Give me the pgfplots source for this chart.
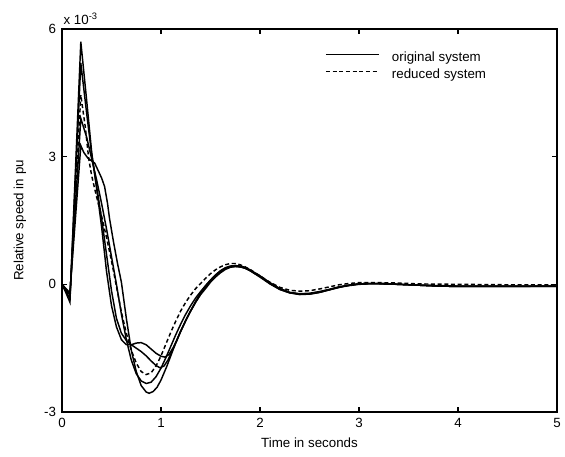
\documentclass[border=0pt]{standalone}
\usepackage{pgfplots}
\pgfplotsset{compat=1.18}
\usepackage{fontspec}
\setmainfont{Liberation Sans}
\begin{document}
\begin{tikzpicture}
\begin{axis}[
  name=ax,
  at={(0,0)}, anchor=south west,
  scale only axis,
  width=371.25pt, height=287.25pt,
  xmin=0, xmax=5, ymin=-3, ymax=6,
  xtick={0,1,2,3,4,5},
  ytick={-3,0,3,6},
  scaled ticks=false,
  tick align=inside,
  tick pos=both,
  major tick length=3.5pt,
  axis line style={line width=0.8pt},
  every tick/.style={line width=0.8pt, black},
  /pgf/number format/assume math mode=true,
  tick label style={font=\fontsize{10}{12}\selectfont},
  xticklabel style={yshift=-1pt},
  yticklabel style={xshift=-1pt},
  label style={font=\fontsize{10}{12}\selectfont},
  xlabel={Time in seconds},
  ylabel={Relative speed in pu},
  x label style={at={(axis description cs:0.5,-0.081)}, anchor=center},
  y label style={at={(axis description cs:-0.085,0.5)}, anchor=center, rotate=0},
  legend cell align=left,
  legend style={draw=none, fill=none, at={(rel axis cs:0.523,0.947)}, anchor=north west,
    font=\fontsize{10}{12}\selectfont, row sep=3.75pt,
    nodes={inner sep=0pt, text height=7pt, text depth=2pt},
    /tikz/every odd column/.append style={column sep=9.5pt}},
  legend image code/.code={\draw[#1] (0pt,3pt) -- (39.5pt,3pt);},
  every axis plot/.append style={line width=1.1pt, black},
]
% original system (A)
\addplot[solid] coordinates {(0,0)(0.04,-0.2)(0.08,-0.42)(0.19,5.7)(0.25,4.3)(0.3,3.1)(0.35,2.25)(0.4,1.35)(0.45,0.3)(0.5,-0.5)(0.55,-1.0)(0.6,-1.3)(0.65,-1.42)(0.7,-1.42)(0.75,-1.38)(0.8,-1.37)(0.85,-1.42)(0.9,-1.52)(0.95,-1.62)(1.0,-1.69)(1.04,-1.71)(1.08,-1.65)(1.12,-1.5)(1.16,-1.32)(1.2,-1.1)(1.25,-0.85)(1.3,-0.62)(1.35,-0.4)(1.4,-0.2)(1.45,-0.04)(1.5,0.1)(1.55,0.22)(1.6,0.32)(1.65,0.39)(1.7,0.43)(1.75,0.44)(1.8,0.42)(1.85,0.38)(1.9,0.32)(2.0,0.17)(2.1,0.01)(2.2,-0.12)(2.3,-0.2)(2.4,-0.23)(2.5,-0.22)(2.6,-0.18)(2.7,-0.12)(2.8,-0.06)(2.9,-0.02)(3.0,0.01)(3.1,0.02)(3.2,0.02)(3.4,0.0)(3.6,-0.02)(3.8,-0.04)(4.0,-0.05)(4.5,-0.05)(5,-0.04)};
\addlegendentry{original system}

% reduced system (C)
\addplot[dash pattern=on 3pt off 2pt] coordinates {(0,0)(0.04,-0.14)(0.08,-0.3)(0.19,4.45)(0.235,3.7)(0.27,2.95)(0.3,2.55)(0.35,2.05)(0.4,1.6)(0.45,1.1)(0.5,0.55)(0.55,-0.05)(0.6,-0.65)(0.65,-1.15)(0.7,-1.55)(0.75,-1.85)(0.8,-2.05)(0.85,-2.12)(0.9,-2.08)(0.95,-1.92)(1.0,-1.68)(1.05,-1.4)(1.1,-1.12)(1.15,-0.86)(1.2,-0.62)(1.25,-0.42)(1.3,-0.25)(1.35,-0.1)(1.4,0.02)(1.45,0.14)(1.5,0.25)(1.55,0.34)(1.6,0.41)(1.65,0.46)(1.7,0.49)(1.75,0.49)(1.8,0.46)(1.85,0.41)(1.9,0.35)(2.0,0.2)(2.1,0.05)(2.2,-0.07)(2.3,-0.14)(2.4,-0.16)(2.5,-0.15)(2.6,-0.11)(2.7,-0.06)(2.8,-0.01)(2.9,0.02)(3.0,0.04)(3.1,0.04)(3.2,0.04)(3.4,0.03)(3.6,0.01)(4.0,0.0)(4.5,-0.01)(5,-0.01)};
\addlegendentry{reduced system}

% original system (B)
\addplot[solid, forget plot] coordinates {(0,0)(0.04,-0.16)(0.08,-0.34)(0.19,5.2)(0.25,4.0)(0.3,3.05)(0.35,2.3)(0.4,1.55)(0.45,0.7)(0.5,-0.15)(0.55,-0.8)(0.6,-1.15)(0.65,-1.32)(0.7,-1.42)(0.75,-1.5)(0.8,-1.58)(0.85,-1.68)(0.9,-1.8)(0.95,-1.91)(0.99,-1.96)(1.03,-1.92)(1.07,-1.78)(1.11,-1.58)(1.15,-1.36)(1.2,-1.1)(1.25,-0.85)(1.3,-0.62)(1.35,-0.42)(1.4,-0.23)(1.45,-0.06)(1.5,0.08)(1.55,0.2)(1.6,0.3)(1.65,0.37)(1.7,0.41)(1.75,0.42)(1.8,0.41)(1.85,0.38)(1.9,0.32)(2.0,0.18)(2.1,0.02)(2.2,-0.12)(2.3,-0.2)(2.4,-0.24)(2.5,-0.23)(2.6,-0.19)(2.7,-0.13)(2.8,-0.07)(2.9,-0.02)(3.0,0.01)(3.1,0.02)(3.2,0.02)(3.4,0.0)(3.6,-0.02)(3.8,-0.04)(4.0,-0.05)(4.5,-0.05)(5,-0.05)};

% original system (E)
\addplot[solid, forget plot] coordinates {(0,0)(0.04,-0.12)(0.08,-0.25)(0.19,3.9)(0.25,3.45)(0.3,2.95)(0.35,2.45)(0.4,1.9)(0.45,1.3)(0.5,0.65)(0.55,0.0)(0.6,-0.7)(0.65,-1.3)(0.7,-1.78)(0.75,-2.1)(0.8,-2.27)(0.85,-2.33)(0.9,-2.3)(0.95,-2.17)(1.0,-1.97)(1.05,-1.72)(1.1,-1.45)(1.15,-1.18)(1.2,-0.93)(1.25,-0.7)(1.3,-0.5)(1.35,-0.32)(1.4,-0.17)(1.45,-0.03)(1.5,0.1)(1.55,0.21)(1.6,0.31)(1.65,0.38)(1.7,0.42)(1.75,0.44)(1.8,0.43)(1.85,0.4)(1.9,0.34)(2.0,0.19)(2.1,0.03)(2.2,-0.1)(2.3,-0.19)(2.4,-0.22)(2.5,-0.21)(2.6,-0.17)(2.7,-0.12)(2.8,-0.06)(2.9,-0.02)(3.0,0.01)(3.1,0.02)(3.2,0.02)(3.4,0.0)(3.6,-0.02)(3.8,-0.03)(4.0,-0.04)(4.5,-0.04)(5,-0.04)};

% original system (F)
\addplot[solid, forget plot] coordinates {(0,0)(0.04,-0.1)(0.08,-0.2)(0.19,3.26)(0.22,3.1)(0.26,2.97)(0.3,2.9)(0.33,2.85)(0.36,2.7)(0.4,2.5)(0.43,2.3)(0.46,1.9)(0.48,1.55)(0.52,1.0)(0.56,0.5)(0.6,0.05)(0.65,-0.8)(0.7,-1.55)(0.75,-2.05)(0.8,-2.38)(0.85,-2.53)(0.88,-2.56)(0.92,-2.52)(0.96,-2.42)(1.0,-2.25)(1.06,-1.92)(1.12,-1.55)(1.19,-1.14)(1.25,-0.85)(1.29,-0.67)(1.35,-0.42)(1.4,-0.24)(1.45,-0.1)(1.5,0.05)(1.55,0.17)(1.6,0.27)(1.65,0.35)(1.7,0.4)(1.75,0.42)(1.8,0.41)(1.85,0.38)(1.9,0.33)(2.0,0.2)(2.1,0.04)(2.2,-0.1)(2.3,-0.19)(2.4,-0.23)(2.5,-0.23)(2.6,-0.19)(2.7,-0.13)(2.8,-0.07)(2.9,-0.03)(3.0,0.0)(3.1,0.01)(3.2,0.01)(3.4,0.0)(3.6,-0.02)(3.8,-0.04)(4.0,-0.05)(4.5,-0.05)(5,-0.05)};
\end{axis}
\node[anchor=base west, font=\fontsize{10}{12}\selectfont, inner sep=0pt] at ([xshift=1pt,yshift=3.5pt]ax.north west) {x 10\textsuperscript{-3}};
\pgfresetboundingbox
\useasboundingbox (-46.5pt,-33.75pt) rectangle (377.25pt,309pt);
\end{tikzpicture}
\end{document}
